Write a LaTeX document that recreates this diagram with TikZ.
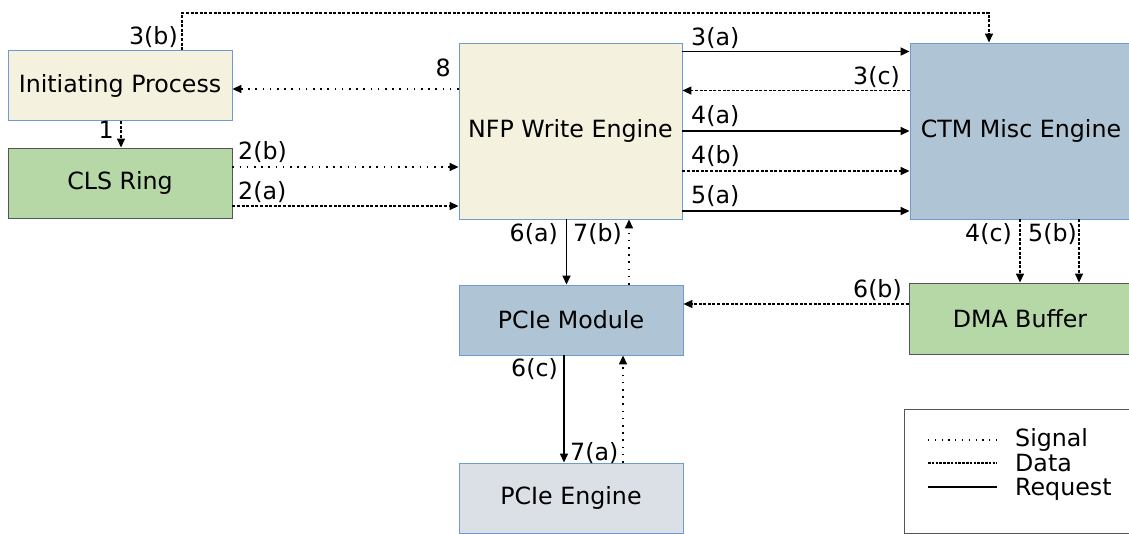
\documentclass[tikz,border=0pt]{standalone}
\usepackage{fontspec}
\setmainfont{DejaVu Sans}
\usetikzlibrary{arrows.meta}

\definecolor{cream}{HTML}{F4F1DF}
\definecolor{leaf}{HTML}{B6D8A7}
\definecolor{steel}{HTML}{AFC5D5}
\definecolor{mist}{HTML}{DAE0E5}
\definecolor{edgeblue}{HTML}{6E9CD0}
\definecolor{edgegray}{HTML}{555555}

\tikzset{
  box/.style={rectangle, draw, line width=0.9bp, inner sep=0pt, text=black},
  lbl/.style={inner sep=0pt, text=black},
  conn/.style={line width=1.7bp, draw=black, -{Triangle[length=9bp,width=8bp]}},
  req/.style={conn},
  data/.style={conn, line width=1.5bp, dash pattern=on 3bp off 1.6bp},
  sig/.style={conn, line width=1.5bp, dash pattern=on 1.6bp off 5.6bp},
}

\begin{document}
\begin{tikzpicture}[x=1bp,y=-1bp,font=\fontsize{23.8}{28}\selectfont]
\useasboundingbox (0,0) rectangle (1129,534);
\clip (0,0) rectangle (1129,534);

% blocks
\node[box, fill=cream, draw=edgeblue, minimum width=224bp, minimum height=70bp] (ip) at (120,85.7) {Initiating Process};
\node[box, fill=leaf, draw=edgegray, minimum width=224bp, minimum height=70bp] (cls) at (120,183) {CLS Ring};
\node[box, fill=cream, draw=edgeblue, minimum width=223bp, minimum height=176bp] (nfp) at (570.5,131) {NFP Write Engine};
\node[box, fill=steel, draw=edgeblue, minimum width=222bp, minimum height=176bp] (ctm) at (1021,131) {CTM Misc Engine};
\node[box, fill=steel, draw=edgeblue, minimum width=224bp, minimum height=70bp] (pcm) at (571,320) {PCIe Module};
\node[box, fill=leaf, draw=edgegray, minimum width=222bp, minimum height=71bp] (dma) at (1020,318.5) {DMA Buffer};
\node[box, fill=mist, draw=edgeblue, minimum width=224bp, minimum height=70bp] (pce) at (571,498) {PCIe Engine};

% NFP <-> CTM
\draw[req]  ([yshift=-9bp]nfp.north east) -- ([yshift=-9bp]ctm.north west);
\draw[data] ([yshift=-48bp]ctm.north west) -- ([yshift=-48bp]nfp.north east);
\draw[req]  (nfp.east) -- (ctm.west);
\draw[data] ([yshift=-40bp]nfp.east) -- ([yshift=-40bp]ctm.west);
\draw[req]  ([yshift=-80bp]nfp.east) -- ([yshift=-80bp]ctm.west);

% initiating process and ring
\coordinate (p8) at ([yshift=-3.3bp]ip.east);
\draw[sig] (nfp.west |- p8) -- (p8);
\draw[data] ([xshift=1bp]ip.south) -- ([xshift=1bp]cls.north);
\coordinate (p2b) at ([yshift=16bp]cls.east);
\coordinate (p2a) at ([yshift=-23bp]cls.east);
\draw[sig]  (p2b) -- (nfp.west |- p2b);
\draw[data] (p2a) -- (nfp.west |- p2a);
\draw[data] ([xshift=62bp]ip.north) -- ++(0,-37.4) -| ([xshift=-32bp]ctm.north);

% NFP <-> PCIe module <-> PCIe engine
\coordinate (p6a) at ([xshift=-4bp]nfp.south);
\coordinate (p7b) at ([xshift=58bp]pcm.north);
\draw[req] (p6a) -- (pcm.north -| p6a);
\draw[sig] (p7b) -- (nfp.south -| p7b);
\coordinate (p6c) at ([xshift=-7bp]pcm.south);
\coordinate (p7a) at ([xshift=52bp]pce.north);
\draw[req] (p6c) -- (pce.north -| p6c);
\draw[sig] (p7a) -- (pcm.south -| p7a);

% CTM -> DMA buffer -> PCIe module
\coordinate (p4c) at ([xshift=-1bp]ctm.south);
\coordinate (p5b) at ([xshift=58bp]ctm.south);
\draw[data] (p4c) -- (dma.north -| p4c);
\draw[data] (p5b) -- (dma.north -| p5b);
\coordinate (p6b) at ([yshift=14.5bp]dma.west);
\draw[data] (p6b) -- (pcm.east |- p6b);

% step labels
\node[lbl, anchor=base west] (l3a) at (691,46) {3(a)};
\node[lbl, anchor=base east] (l3c) at (900,85) {3(c)};
\node[lbl, anchor=base west] (l4a) at (691,124) {4(a)};
\node[lbl, anchor=base west] (l4b) at (691,164) {4(b)};
\node[lbl, anchor=base west] (l5a) at (691,204) {5(a)};
\node[lbl, anchor=base east] (l3b) at (178,45) {3(b)};
\node[lbl, anchor=base east] (l8)  at (451,77) {8};
\node[lbl, anchor=base east] (l1)  at (114,139) {1};
\node[lbl, anchor=base west] (l2b) at (238,160) {2(b)};
\node[lbl, anchor=base west] (l2a) at (238,200) {2(a)};
\node[lbl, anchor=base east] (l6a) at (558,242) {6(a)};
\node[lbl, anchor=base west] (l7b) at (573,242) {7(b)};
\node[lbl, anchor=base east] (l4c) at (1012,242) {4(c)};
\node[lbl, anchor=base west] (l5b) at (1028,242) {5(b)};
\node[lbl, anchor=base east] (l6b) at (902,298) {6(b)};
\node[lbl, anchor=base east] (l6c) at (558,377) {6(c)};
\node[lbl, anchor=base west] (l7a) at (570,460) {7(a)};

% legend
\node[box, draw=edgegray, fill=white, minimum width=230bp, minimum height=124bp] (legend) at (1019,471) {};
\coordinate (ls1) at (928,440); \coordinate (le1) at (997,440);
\coordinate (ls2) at (928,463); \coordinate (le2) at (997,463);
\coordinate (ls3) at (928,487); \coordinate (le3) at (997,487);
\draw[line width=1.2bp, dash pattern=on 1.2bp off 5.6bp] (ls1) -- (le1);
\draw[line width=1.2bp, dash pattern=on 2.6bp off 1.2bp] (ls2) -- (le2);
\draw[line width=1.6bp] (ls3) -- (le3);
\node[lbl, anchor=base west] (tsig) at (1015,446) {Signal};
\node[lbl, anchor=base west] (tdat) at (1015,471) {Data};
\node[lbl, anchor=base west] (treq) at (1015,495) {Request};
\end{tikzpicture}
\end{document}
